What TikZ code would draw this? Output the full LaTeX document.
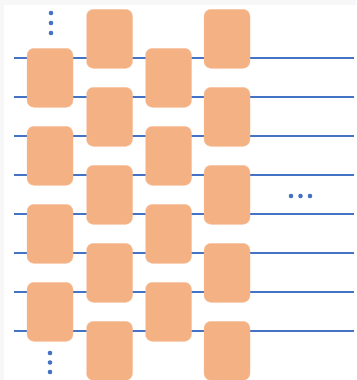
\documentclass[tikz,border=0pt]{standalone}
\usetikzlibrary{positioning}

\definecolor{wireblue}{HTML}{4472C4}
\definecolor{gatefill}{HTML}{F4B183}
\definecolor{edgegray}{HTML}{F7F7F7}

\begin{document}
\begin{tikzpicture}[
  x=1pt, y=-1pt,
  wire/.style={wireblue,line width=2pt},
  gate/.style={rectangle,rounded corners=7pt,fill=gatefill,
    draw=gatefill!70!white,line width=0.4pt,
    minimum width=46pt,minimum height=59pt,inner sep=0pt},
  dot/.style={circle,fill=wireblue,inner sep=0pt,minimum size=4.6pt}
]
  % frame
  \fill[edgegray] (0,0) rectangle (356,380);
  \fill[white] (4,5) rectangle (356,380);
  \useasboundingbox (0,0) rectangle (356,380);

  % wires
  \foreach \k in {1,...,8} {
    \coordinate (l\k) at (14,{19.3+39*\k});
    \coordinate (r\k) at (354,{19.3+39*\k});
    \draw[wire] (l\k) -- (r\k);
  }

  % odd layers
  \foreach \k/\y in {1/77.8,2/155.8,3/233.8,4/311.8} {
    \node[gate] (a\k) at (50,\y) {};
    \node[gate] (c\k) at (168.5,\y) {};
  }
  % even layers
  \foreach \k/\y in {1/38.8,2/116.8,3/194.8,4/272.8,5/350.8} {
    \node[gate] (b\k) at (109.5,\y) {};
    \node[gate] (d\k) at (227,\y) {};
  }

  % ellipses
  \foreach \y in {13,23,33} \node[dot] at (51,\y) {};
  \foreach \y in {353,362.5,372} \node[dot] at (50,\y) {};
  \foreach \x in {291,300.5,310} \node[dot] at (\x,196) {};
\end{tikzpicture}
\end{document}
